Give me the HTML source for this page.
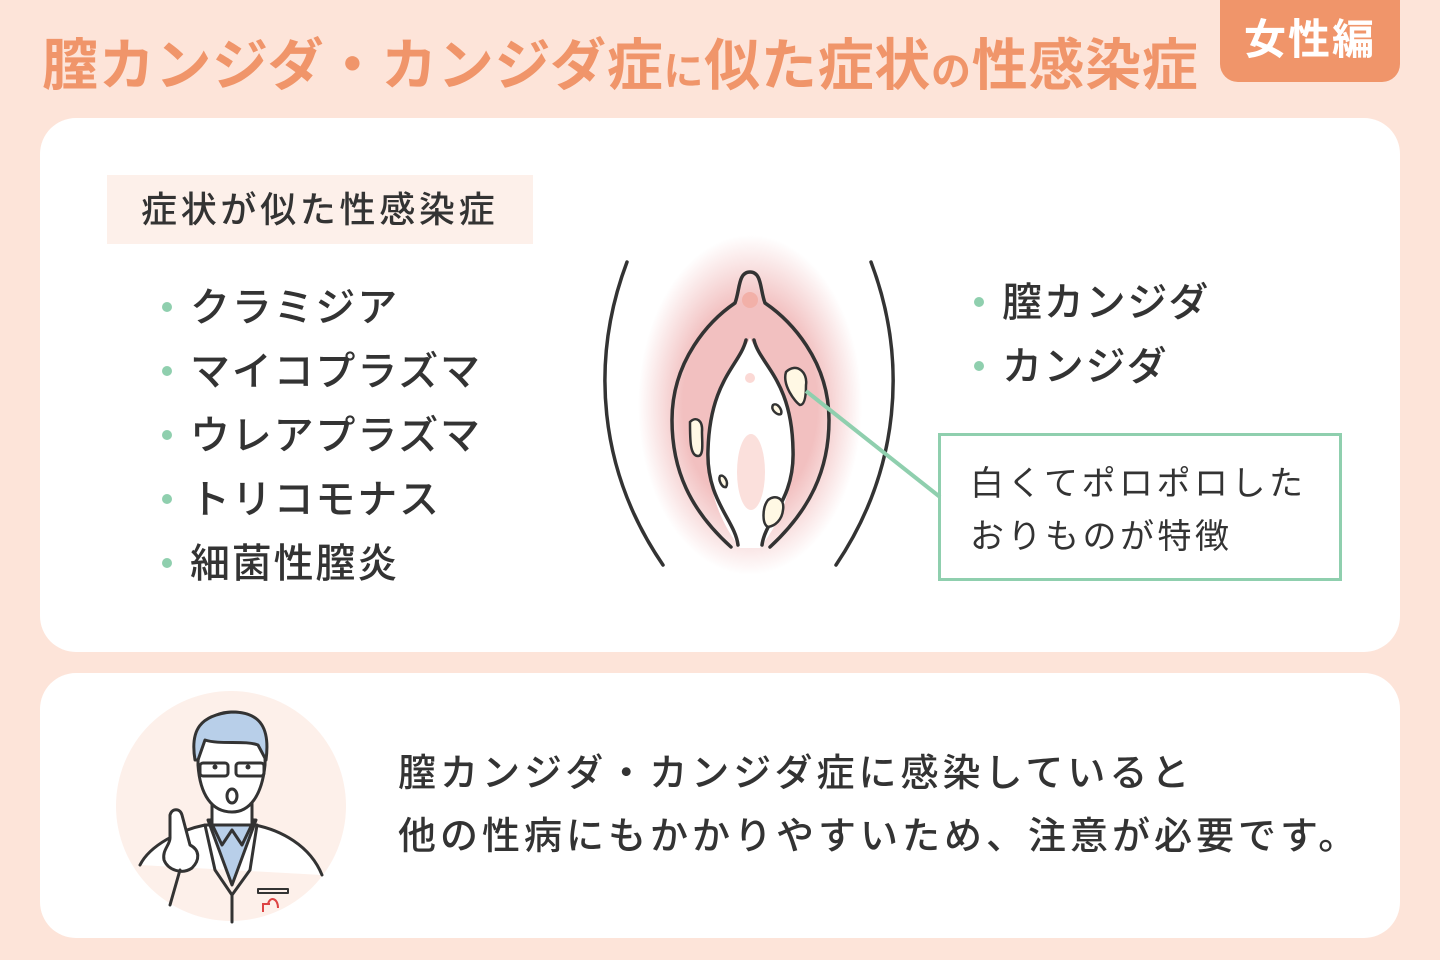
<!DOCTYPE html>
<html><head><meta charset="utf-8"><style>
body{margin:0;width:1440px;height:960px;background:#fde4d9;position:relative;overflow:hidden;font-family:"Liberation Sans","Noto Sans CJK JP",sans-serif;color:#333}
.abs{position:absolute;white-space:nowrap}
.title{left:42px;top:28px;font-size:56px;font-weight:700;color:#f0956a;line-height:76px;letter-spacing:0.7px}
.title small{font-size:40px}
.tag{left:1220px;top:0;width:180px;height:82px;background:#f0956a;border-radius:0 0 18px 18px;color:#fff;font-size:42px;font-weight:700;text-align:center;line-height:80px;letter-spacing:2px}
.card{position:absolute;left:40px;width:1360px;background:#fff;border-radius:36px}
.h{left:107px;top:175px;width:426px;height:69px;background:#fdf0ea;font-size:36px;line-height:69px;text-indent:34px;font-weight:500;letter-spacing:3.7px}
.li{font-size:40px;line-height:64px;font-weight:500;letter-spacing:1.8px}
.dot{display:inline-block;width:10px;height:10px;border-radius:50%;background:#8fcfae;margin-right:18px;vertical-align:middle;position:relative;top:-3px}
.box{left:938px;top:433px;border:3px solid #8fcfae;font-size:34px;line-height:53px;padding:22px 0 0 29px;box-sizing:border-box;width:404px;height:148px;letter-spacing:3.5px}
.bt{left:398px;top:743px;font-size:38px;line-height:63px;font-weight:500;letter-spacing:4px}
</style></head><body>
<div class="abs title">膣カンジダ・カンジダ症<small>に</small>似た症状<small>の</small>性感染症</div>
<div class="abs tag">女性編</div>
<div class="card" style="top:118px;height:534px"></div>
<div class="card" style="top:673px;height:265px"></div>
<div class="abs h">症状が似た性感染症</div>
<div class="abs li" style="left:162px;top:276px"><span class="dot"></span>クラミジア<br><span class="dot"></span>マイコプラズマ<br><span class="dot"></span>ウレアプラズマ<br><span class="dot"></span>トリコモナス<br><span class="dot"></span>細菌性膣炎</div>
<div class="abs li" style="left:974px;top:271px"><span class="dot"></span>膣カンジダ<br><span class="dot"></span>カンジダ</div>
<div class="abs box">白くてポロポロした<br>おりものが特徴</div>
<svg class="abs" style="left:0;top:0" width="1440" height="960">
<defs><radialGradient id="g" cx="50%" cy="50%" r="50%"><stop offset="0.6" stop-color="#f2c0c0"/><stop offset="1" stop-color="#f2c0c0" stop-opacity="0"/></radialGradient></defs>
<ellipse cx="750" cy="405" rx="112" ry="170" fill="url(#g)"/>
<path d="M708 450 C708 380 740 360 750 338 C760 360 793 380 793 450 C793 510 765 540 760 548 L740 548 C735 540 708 510 708 450Z" fill="#fff"/>
<g fill="none" stroke="#333" stroke-width="3.5" stroke-linecap="round">
<path d="M627 262 C590 360 598 470 663 565"/>
<path d="M871 262 C908 360 900 470 836 565"/>
<path d="M731 547 C690 510 672 470 672 420 C672 360 710 320 735 303 C740 290 738 272 750 272 C762 272 760 290 765 303 C790 320 829 360 829 420 C829 470 810 510 770 547"/>
<path d="M746 340 C740 365 710 380 708 450 C706 500 735 520 738 545"/>
<path d="M754 340 C760 365 792 380 793 450 C795 500 765 520 762 545"/>
</g>
<circle cx="750" cy="300" r="8" fill="#f2b0a8"/>
<circle cx="750" cy="378" r="5" fill="#fbd9d5"/>
<ellipse cx="751" cy="472" rx="14" ry="38" fill="#fbe0dc"/>
<g fill="#fff8e4" stroke="#333" stroke-width="2.5">
<path d="M786 372 C796 362 808 372 806 385 C806 395 805 405 800 405 C795 402 782 385 786 372Z"/>
<path d="M773 405 C777 402 783 410 781 414 C778 416 770 410 773 405Z"/>
<path d="M690 422 C696 416 703 420 702 432 C702 442 704 456 698 456 C690 456 690 440 690 422Z"/>
<path d="M720 476 C724 474 729 482 726 487 C722 488 718 480 720 476Z"/>
<path d="M768 500 C775 494 785 498 783 510 C782 520 775 526 768 527 C762 524 762 508 768 500Z"/>
</g>
<line x1="806" y1="391" x2="940" y2="497" stroke="#8fcfae" stroke-width="4"/>
<circle cx="231" cy="806" r="115" fill="#fdf0ea"/>
<g stroke="#333" stroke-width="3" stroke-linejoin="round" stroke-linecap="round">
<path d="M140 865 C150 845 180 830 205 825 L255 825 C280 830 310 845 322 875" fill="#fff"/>
<path d="M208 820 L232 885 L256 820 Z" fill="#b8cfe9"/>
<path d="M210 820 L222 845 L232 830 L242 845 L254 820" fill="#b8cfe9"/>
<path d="M205 825 L215 870 L232 895 M257 825 L250 870 L232 895 M232 895 L232 922" fill="none"/>
<path d="M212 790 L212 825 L252 825 L252 790 Z" fill="#fff"/>
<path d="M198 765 C198 725 210 712 232 712 C258 712 266 730 265 765 C262 795 250 812 232 812 C212 812 200 795 198 765Z" fill="#fff"/>
<path d="M195 760 C190 730 200 715 232 712 C262 712 270 730 266 760 L258 745 C245 740 220 745 205 740 L198 760Z" fill="#b8cfe9"/>
<rect x="200" y="763" width="28" height="13" rx="3" fill="none"/><rect x="236" y="763" width="28" height="13" rx="3" fill="none"/>
<ellipse cx="232" cy="796" rx="5" ry="7" fill="#fff"/>
<path d="M170 815 C172 808 180 808 182 815 L190 845 C200 850 200 860 192 868 C182 875 168 870 164 860 C162 850 170 845 170 838Z" fill="#fff"/>
<path d="M180 870 L170 905" fill="none"/>
<rect x="258" y="889" width="30" height="4" fill="none" stroke-width="2"/>
</g>
<circle cx="215" cy="767" r="2.5" fill="#333"/><circle cx="248" cy="767" r="2.5" fill="#333"/>
<path d="M263 912 L263 904 L270 904 M268 904 C270 896 278 898 278 908" stroke="#d44" stroke-width="2" fill="none"/>
</svg>
<div class="abs bt">膣カンジダ・カンジダ症に感染していると<br>他の性病にもかかりやすいため、注意が必要です。</div>
</body></html>
